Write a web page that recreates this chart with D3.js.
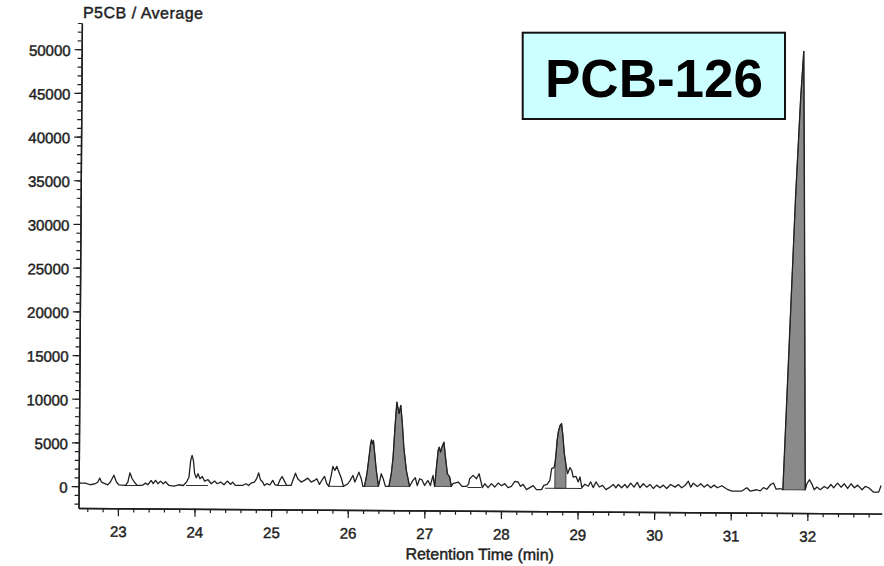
<!DOCTYPE html>
<html><head><meta charset="utf-8">
<script src="https://cdn.jsdelivr.net/npm/d3@7"></script>
<style>
body{margin:0;background:#fff;}
text{font-family:"Liberation Sans",Arial,Helvetica,sans-serif;}
</style>
</head><body>
<svg id="chart" width="884" height="566"></svg>
<script>
// ---- data (retention time in min, intensity) ----
const retentionTimes = [
 22.485,22.507,22.572,22.638,22.703,22.735,22.761,22.782,22.813,22.865,22.899,22.944,22.978,23.009,23.096,23.127,23.153,23.183,23.213,23.248,
 23.314,23.357,23.388,23.431,23.458,23.488,23.519,23.553,23.588,23.619,23.663,23.728,23.793,23.850,23.893,23.924,23.945,23.963,23.981,23.998,
 24.020,24.042,24.068,24.098,24.128,24.173,24.216,24.259,24.294,24.338,24.382,24.425,24.469,24.495,24.530,24.625,24.670,24.704,24.735,24.778,
 24.808,24.834,24.857,24.887,24.909,24.939,24.983,25.018,25.049,25.083,25.114,25.140,25.171,25.201,25.258,25.288,25.314,25.344,25.389,25.432,
 25.475,25.520,25.563,25.593,25.628,25.663,25.694,25.724,25.750,25.781,25.802,25.828,25.854,25.881,25.911,25.942,25.999,26.029,26.064,26.090,
 26.116,26.142,26.173,26.195,
 26.216,26.247,26.273,26.290,26.303,26.316,26.329,26.347,26.369,26.399,
 26.434,26.460,26.490,26.520,
 26.535,26.565,26.587,26.609,26.631,26.661,26.683,26.705,26.726,26.761,26.805,
 26.848,26.879,26.905,26.936,26.966,27.001,27.044,27.076,27.110,27.125,
 27.132,27.154,27.175,27.188,27.206,27.223,27.249,27.271,27.297,27.328,27.350,
 27.370,27.440,27.490,27.550,27.575,27.589,27.633,27.677,27.711,27.755,27.786,27.829,27.873,27.916,27.960,28.004,28.047,28.090,28.134,28.178,
 28.221,28.253,28.287,28.331,28.374,28.418,28.461,28.527,28.557,28.600,28.636,28.658,28.688,
 28.701,28.714,28.727,28.744,28.766,28.783,28.801,28.822,28.845,
 28.867,28.897,28.919,28.940,28.975,29.006,29.028,29.054,29.093,29.137,29.168,29.202,29.237,29.281,29.324,29.368,29.411,
 29.463,29.498,29.529,29.573,29.616,29.647,29.691,29.734,29.777,29.812,29.856,29.900,29.943,29.986,30.031,30.074,30.117,30.161,30.213,30.270,
 30.313,30.357,30.400,30.444,30.475,30.509,30.561,30.606,30.649,30.692,30.737,30.780,30.823,30.881,30.946,31.011,31.142,31.207,31.251,31.338,
 31.382,31.425,31.469,31.521,31.556,31.590,31.643,
 31.678,31.738,31.817,31.875,31.911,31.933,31.954,31.970,
 31.992,32.026,32.057,32.087,32.122,32.166,32.218,32.261,32.306,32.340,32.392,32.437,32.480,32.523,32.567,32.611,32.654,32.711,32.754,32.798,
 32.863,32.929,32.960
];
const intensities = [
 470,350,355,170,290,485,935,485,370,180,495,1285,500,190,115,510,1570,890,515,125,
 130,400,215,715,340,720,340,645,345,570,150,85,240,160,555,1115,3030,3610,3030,1510,
 1050,1515,945,1210,680,840,385,690,390,580,275,700,320,590,205,210,410,215,485,610,
 990,1670,885,615,225,430,310,815,315,240,900,1270,740,245,250,1020,1660,1025,645,840,
 1100,655,845,1040,390,930,1305,475,170,1430,2460,2000,2465,1815,1170,180,490,875,1445,690,
 1250,1830,1075,195,
 200,1650,3550,4890,5540,5080,5460,3945,2035,205,
 1660,1090,215,215,
 215,1670,3570,7010,9870,8570,9490,7435,4725,2060,230,
 925,1225,345,1120,1010,355,935,355,1510,550,
 250,2465,4375,4755,4185,4755,5330,3615,1720,1340,270,
 575,775,275,280,585,1165,1550,1170,1740,145,600,150,615,230,690,390,625,165,315,890,
 825,325,565,-40,190,425,-35,-30,465,590,1050,2385,2500,
 2970,4110,5630,6700,7355,7545,6205,4120,2780,
 1830,2510,2215,1440,1525,885,1450,235,620,395,895,245,895,320,510,20,250,
 625,245,630,250,635,255,790,330,875,265,730,340,650,195,580,280,585,205,670,365,
 675,300,560,1060,370,835,460,775,385,695,320,625,325,560,185,-40,-30,355,-25,130,
 0,380,195,770,890,205,290,
 150,14570,33640,45040,50340,33640,14540,150,
 865,1325,790,180,485,190,560,335,795,415,950,490,885,350,890,435,740,210,595,450,
 -50,-45,715
];
// integrated (shaded) peaks
const peakStart = [26.216, 26.535, 27.132, 28.701, 31.678];
const peakEnd   = [26.399, 26.805, 27.350, 28.845, 31.970];
const peakBase  = [200, 215, 250, 125, 150];
// drawn integration baselines under unshaded peaks
const baseStart = [23.096, 23.887, 25.083, 25.750, 27.560, 28.572];
const baseEnd   = [23.248, 24.173, 25.201, 25.942, 27.740, 29.054];
const baseLevel = [120, 165, 245, 175, 170, 125];
// axes
const xMajorTicks = [23, 24, 25, 26, 27, 28, 29, 30, 31, 32];
const yMajorTicks = [0, 5000, 10000, 15000, 20000, 25000, 30000, 35000, 40000, 45000, 50000];
const xDomain = [22.485, 32.97];
const yDomain = [-2500, 53000];
const yTitle = "P5CB / Average";
const xTitle = "Retention Time (min)";
const compoundLabel = "PCB-126";

// ---- drawing ----
const svg = d3.select("#chart");
const x = d3.scaleLinear().domain(xDomain).range([78.5, 881.7]);
const y = d3.scaleLinear().domain(yDomain).range([508, 23]);

const pts = retentionTimes.map((t, i) => ({t, v: intensities[i]}));

// whole scanned chart is slightly rotated
const g = svg.append("g").attr("transform", "rotate(0.4, 78.5, 508)");
const ink = "#1e1e1e";

// fills
const area = d3.area().x(d => x(d.t)).y1(d => y(d.v));
peakStart.forEach((s, i) => {
  const seg = pts.filter(p => p.t >= s - 1e-9 && p.t <= peakEnd[i] + 1e-9);
  g.append("path").datum(seg)
    .attr("d", area.y0(y(peakBase[i])))
    .attr("fill", "#8a8a8a").attr("stroke", "#333").attr("stroke-width", 0.9);
});

// integration baselines
baseStart.forEach((s, i) => {
  g.append("line")
    .attr("x1", x(s)).attr("x2", x(baseEnd[i]))
    .attr("y1", y(baseLevel[i])).attr("y2", y(baseLevel[i]))
    .attr("stroke", "#333").attr("stroke-width", 1);
});

// trace
g.append("path").datum(pts)
  .attr("d", d3.line().x(d => x(d.t)).y(d => y(d.v)))
  .attr("fill", "none").attr("stroke", "#222").attr("stroke-width", 1.3)
  .attr("stroke-linejoin", "round");

// y axis
const yMinor = d3.range(-2, 54).map(k => k * 1000);
const yMinorAxis = d3.axisLeft(y).tickValues(yMinor).tickSize(4).tickFormat("").tickSizeOuter(0);
g.append("g").attr("transform", "translate(78.5,0)").call(yMinorAxis);
const yAxis = d3.axisLeft(y).tickValues(yMajorTicks).tickSize(7).tickPadding(4).tickSizeOuter(0)
  .tickFormat(d3.format("d"));
const ya = g.append("g").attr("transform", "translate(78.5,0)").call(yAxis);
ya.selectAll("text").attr("dy", "0.42em");

// x axis
const xMinor = d3.range(113, 165).map(k => k / 5);
const xMinorAxis = d3.axisBottom(x).tickValues(xMinor).tickSize(4).tickFormat("").tickSizeOuter(0);
g.append("g").attr("transform", "translate(0,508)").call(xMinorAxis);
const xAxis = d3.axisBottom(x).tickValues(xMajorTicks).tickSize(8).tickPadding(10).tickSizeOuter(0)
  .tickFormat(d3.format("d"));
g.append("g").attr("transform", "translate(0,508)").call(xAxis);

g.selectAll(".domain").attr("stroke", ink).attr("stroke-width", 1.4);
g.selectAll(".tick line").attr("stroke", ink).attr("stroke-width", 1.2);
g.selectAll(".tick text").attr("fill", ink).style("font-size", "15px")
  .style("font-family", "'Liberation Sans', Arial, sans-serif")
  .attr("stroke", ink).attr("stroke-width", 0.45);

// titles
g.append("text").attr("x", 79.5).attr("y", 17.9).text(yTitle)
  .attr("fill", ink).attr("stroke", ink).attr("stroke-width", 0.45)
  .style("font-size", "16px").style("letter-spacing", "0.5px");
g.append("text").attr("x", 480).attr("y", 557).attr("text-anchor", "middle").text(xTitle)
  .attr("fill", ink).attr("stroke", ink).attr("stroke-width", 0.45)
  .style("font-size", "16px");

// compound label box (overlay, not rotated)
svg.append("rect").attr("x", 522.7).attr("y", 32.7).attr("width", 262.3).attr("height", 86.3)
  .attr("fill", "#ccffff").attr("stroke", "#111").attr("stroke-width", 2);
svg.append("text").attr("x", 654).attr("y", 97).attr("text-anchor", "middle")
  .attr("font-weight", "bold").style("font-size", "53px").attr("fill", "#000").text(compoundLabel);
</script>
</body></html>
